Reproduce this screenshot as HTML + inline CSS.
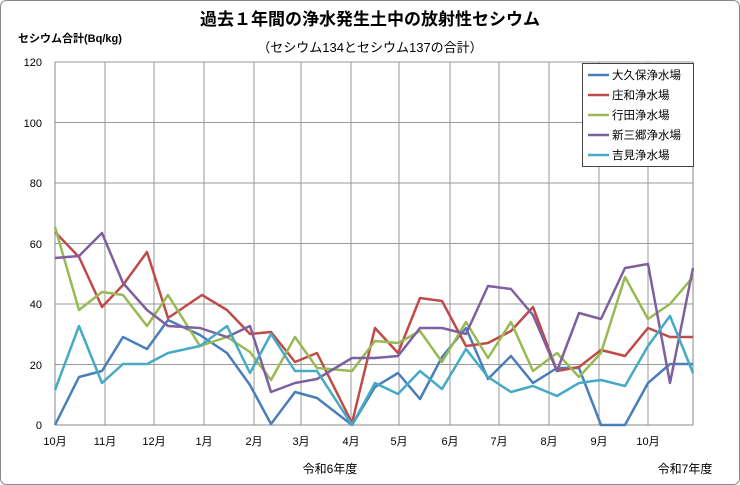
<!DOCTYPE html>
<html><head><meta charset="utf-8"><style>
body{margin:0;background:#fff;}
svg{display:block;font-family:"Liberation Sans","Noto Sans CJK JP",sans-serif;}
</style></head><body>
<svg width="740" height="485" viewBox="0 0 740 485" xmlns="http://www.w3.org/2000/svg">
<rect x="0.5" y="0.5" width="739" height="484" rx="6" fill="#fff" stroke="#888"/>
<text x="370" y="25" text-anchor="middle" font-size="17" font-weight="bold" fill="#000">過去１年間の浄水発生土中の放射性セシウム</text>
<text x="370" y="52" text-anchor="middle" font-size="13" fill="#000">（セシウム134とセシウム137の合計）</text>
<text x="18" y="42" font-size="11" font-weight="bold" fill="#000">セシウム合計(Bq/kg)</text>
<g stroke="#999" stroke-width="1">
<line x1="55" y1="62" x2="693" y2="62"/><line x1="55" y1="122.5" x2="693" y2="122.5"/><line x1="55" y1="183" x2="693" y2="183"/><line x1="55" y1="243.5" x2="693" y2="243.5"/><line x1="55" y1="304" x2="693" y2="304"/><line x1="55" y1="364.5" x2="693" y2="364.5"/>
<line x1="105" y1="62" x2="105" y2="425"/><line x1="154" y1="62" x2="154" y2="425"/><line x1="204" y1="62" x2="204" y2="425"/><line x1="254" y1="62" x2="254" y2="425"/><line x1="301" y1="62" x2="301" y2="425"/><line x1="351" y1="62" x2="351" y2="425"/><line x1="399" y1="62" x2="399" y2="425"/><line x1="450" y1="62" x2="450" y2="425"/><line x1="499" y1="62" x2="499" y2="425"/><line x1="549" y1="62" x2="549" y2="425"/><line x1="599" y1="62" x2="599" y2="425"/><line x1="648" y1="62" x2="648" y2="425"/>
</g>
<g stroke="#888" stroke-width="1"><line x1="55" y1="62" x2="55" y2="425"/><line x1="693" y1="62" x2="693" y2="425"/><line x1="55" y1="425" x2="693" y2="425"/></g>
<g font-size="11" fill="#000" text-anchor="end">
<text x="42" y="66">120</text><text x="42" y="127">100</text><text x="42" y="187">80</text><text x="42" y="248">60</text><text x="42" y="308">40</text><text x="42" y="369">20</text><text x="42" y="429">0</text>
</g>
<g font-size="11" fill="#000" text-anchor="middle">
<text x="55" y="445">10月</text><text x="105" y="445">11月</text><text x="154" y="445">12月</text><text x="204" y="445">1月</text><text x="254" y="445">2月</text><text x="301" y="445">3月</text><text x="351" y="445">4月</text><text x="399" y="445">5月</text><text x="450" y="445">6月</text><text x="499" y="445">7月</text><text x="549" y="445">8月</text><text x="599" y="445">9月</text><text x="648" y="445">10月</text>
<text x="330" y="473" font-size="12">令和6年度</text><text x="685" y="473" font-size="12">令和7年度</text>
</g>
<g fill="none" stroke-width="2.5" stroke-linejoin="round">
<polyline stroke="#4a7ebb" points="55,425 79,377 102,371 123,337 147,349 168,320 200,335 227,353 250,385 271,424 295,392 317,398 352,425 375,387 398,373 420,399 442,357 466,328 488,379 511,356 533,383 557,368 579,368 601,425 625,425 648,383 670,364 693,364"/>
<polyline stroke="#be4b48" points="55,232 79,257 102,307 123,285 147,252 168,318 202,295 227,310 250,334 271,332 295,362 317,353 352,423 375,328 398,353 420,298 442,301 466,346 488,343 511,331 533,307 557,371 579,367 601,350 625,356 648,328 670,337 693,337"/>
<polyline stroke="#98b954" points="55,227 79,310 102,292 123,295 147,326 168,295 200,346 227,337 250,352 271,380 295,337 317,368 352,371 375,341 398,343 420,331 442,362 466,322 488,358 511,322 533,371 557,353 579,377 601,353 625,277 648,319 670,304 693,277"/>
<polyline stroke="#7d60a0" points="55,258 79,256 102,233 123,283 147,310 168,326 200,328 227,337 250,326 271,392 295,383 317,379 352,358 375,358 398,356 420,328 442,328 466,334 488,286 511,289 533,315 557,371 579,313 601,319 625,268 648,264 670,383 693,268"/>
<polyline stroke="#46aac5" points="55,390 79,326 102,383 123,364 147,364 168,353 200,346 227,326 250,373 271,334 295,371 317,371 352,425 375,383 398,394 420,371 442,389 466,349 488,377 511,392 533,386 557,396 579,383 601,380 625,386 648,346 670,316 693,373"/>
</g>
<rect x="582.5" y="63.5" width="111" height="103" fill="#fff" stroke="#444"/>
<g stroke-width="2.5">
<line x1="588" y1="75" x2="609" y2="75" stroke="#4a7ebb"/><line x1="588" y1="95" x2="609" y2="95" stroke="#be4b48"/><line x1="588" y1="115" x2="609" y2="115" stroke="#98b954"/><line x1="588" y1="135" x2="609" y2="135" stroke="#7d60a0"/><line x1="588" y1="155" x2="609" y2="155" stroke="#46aac5"/>
</g>
<g font-size="11.5" fill="#000">
<text x="612" y="79">大久保浄水場</text><text x="612" y="99">庄和浄水場</text><text x="612" y="119">行田浄水場</text><text x="612" y="139">新三郷浄水場</text><text x="612" y="159">吉見浄水場</text>
</g>
</svg>
</body></html>
